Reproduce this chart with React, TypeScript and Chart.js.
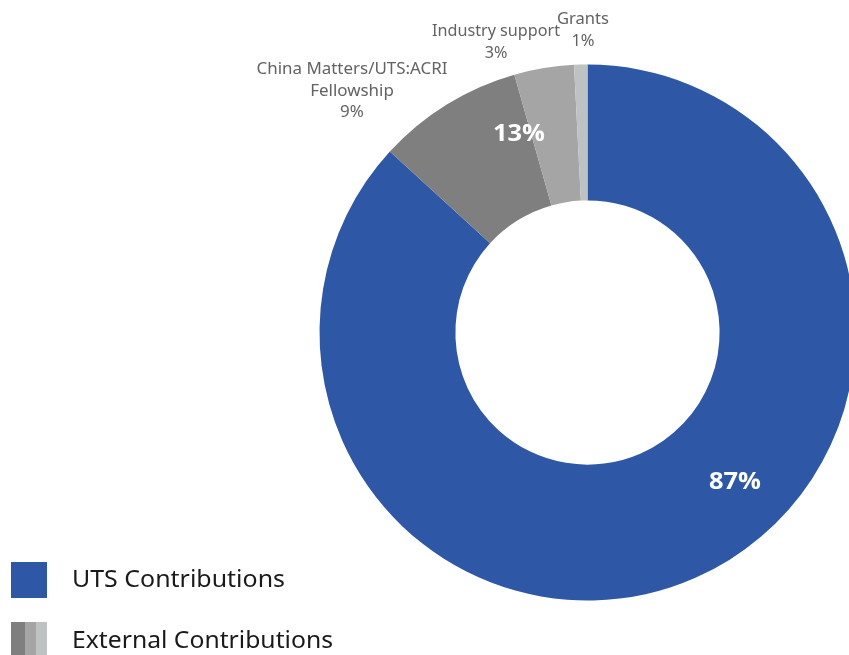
import React, { useEffect, useRef } from "react";
import { Chart, registerables } from "chart.js";

Chart.register(...registerables);

const categories = ["UTS Contributions", "China Matters/UTS:ACRI Fellowship", "Industry support", "Grants"];
const values = [86.8, 8.8, 3.6, 0.8];
const colors = ["#2E58A6", "#7F7F7F", "#A5A5A5", "#BEC2C2"];
const outerLabels = [
  { lines: ["China Matters/UTS:ACRI", "Fellowship", "9%"], x: 352, y: 70, w: 191 },
  { lines: ["Industry support", "3%"], x: 496, y: 32, w: 128 },
  { lines: ["Grants", "1%"], x: 583, y: 20, w: 52 },
];
const innerLabels = [
  { text: "13%", x: 519, y: 134 },
  { text: "87%", x: 735, y: 482 },
];
const legendItems = ["UTS Contributions", "External Contributions"];
const legendWidths = [213, 261];

function fillScaled(ctx: CanvasRenderingContext2D, text: string, x: number, y: number, factor: number) {
  ctx.save();
  ctx.translate(x, y);
  ctx.scale(factor, 1);
  ctx.fillText(text, 0, 0);
  ctx.restore();
}

const overlay = {
  id: "overlay",
  afterDraw(chart: any) {
    const ctx = chart.ctx as CanvasRenderingContext2D;
    ctx.save();
    ctx.textAlign = "center";
    ctx.textBaseline = "middle";
    ctx.fillStyle = "#FFFFFF";
    ctx.font = "bold 24px 'Open Sans', 'Liberation Sans', sans-serif";
    innerLabels.forEach((l) => {
      const f = 52 / ctx.measureText(l.text).width;
      fillScaled(ctx, l.text, l.x, l.y, f);
    });

    ctx.fillStyle = "#636363";
    ctx.font = "15.5px 'Noto Sans', 'Liberation Sans', sans-serif";
    outerLabels.forEach((l) => {
      const f = l.w / ctx.measureText(l.lines[0]).width;
      l.lines.forEach((ln, i) => fillScaled(ctx, ln, l.x, l.y + i * 21.5, f));
    });

    // legend
    ctx.fillStyle = colors[0];
    ctx.fillRect(11, 562, 36, 36);
    ctx.fillStyle = colors[1];
    ctx.fillRect(11, 622, 14, 36);
    ctx.fillStyle = colors[2];
    ctx.fillRect(25, 622, 11, 36);
    ctx.fillStyle = colors[3];
    ctx.fillRect(36, 622, 11, 36);

    ctx.textAlign = "left";
    ctx.fillStyle = "#1A1A1A";
    ctx.font = "23px 'Noto Sans', 'Liberation Sans', sans-serif";
    legendItems.forEach((t, i) => {
      const f = legendWidths[i] / ctx.measureText(t).width;
      fillScaled(ctx, t, 72, 580 + i * 61, f);
    });
    ctx.restore();
  },
};

export default function App() {
  const ref = useRef<HTMLCanvasElement>(null);
  useEffect(() => {
    document.body.style.margin = "0";
    document.body.style.overflow = "hidden";
    const chart = new Chart(ref.current!, {
      type: "doughnut",
      data: {
        labels: categories,
        datasets: [
          {
            data: values,
            backgroundColor: colors,
            borderWidth: 0,
          },
        ],
      },
      options: {
        responsive: false,
        animation: false,
        cutout: "49.3%",
        rotation: 0,
        layout: { padding: { left: 319.5, top: 64.5, right: 24.5, bottom: 89.5 } },
        plugins: {
          legend: { display: false },
          tooltip: { enabled: false },
        },
      },
      plugins: [overlay],
    });
    return () => chart.destroy();
  }, []);
  return (
    <div style={{ width: 849, height: 655, overflow: "hidden", position: "relative", background: "#fff" }}>
      <canvas ref={ref} width={880} height={690} style={{ display: "block" }} />
    </div>
  );
}
